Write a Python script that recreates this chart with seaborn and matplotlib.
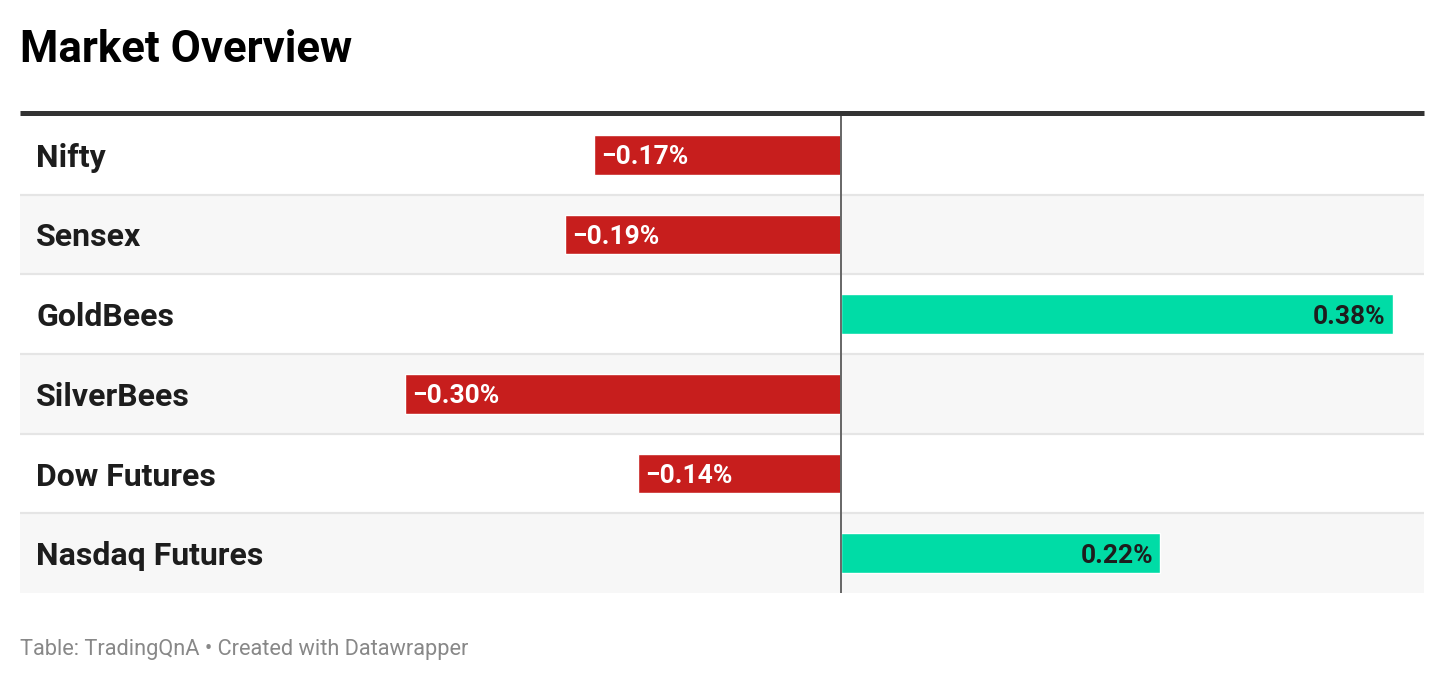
import numpy as np
import pandas as pd
import matplotlib
matplotlib.use("Agg")
import matplotlib.pyplot as plt
import matplotlib.transforms as mtransforms
from matplotlib.lines import Line2D
import seaborn as sns

# chart data
names = ["Nifty", "Sensex", "GoldBees", "SilverBees", "Dow Futures", "Nasdaq Futures"]
changes = [-0.17, -0.19, 0.38, -0.30, -0.14, 0.22]

title = "Market Overview"
footer = "Table: TradingQnA \u2022 Created with Datawrapper"

RED = "#c71e1d"
GREEN = "#00dca6"

df = pd.DataFrame({"name": names, "change": changes})
df["sign"] = np.where(df["change"] < 0, "neg", "pos")

sns.set_theme(style="white")
plt.rcParams["font.family"] = ["Roboto", "DejaVu Sans"]

W, H = 1444, 680
fig = plt.figure(figsize=(W / 100, H / 100), dpi=100)
fig.patch.set_facecolor("white")

# axes area in pixels: x 20..1424, y 115..593
ax = fig.add_axes([20 / W, 1 - 593 / H, 1404 / W, 478 / H])

sns.barplot(data=df, y="name", x="change", hue="sign", palette={"neg": RED, "pos": GREEN},
            orient="h", width=0.5, dodge=False, legend=False, ax=ax, saturation=1)

# x scale: 0 at pixel 841, ~1452 px per 1%
ax.set_xlim((20 - 841) / 1452, (1424 - 841) / 1452)
ax.set_ylim(len(names) - 0.5, -0.5)

# row stripes and separators
for i in range(len(names)):
    if i % 2 == 1:
        ax.axhspan(i - 0.5, i + 0.5, color="#f7f7f7", zorder=0, lw=0)
    if i > 0:
        ax.axhline(i - 0.5, color="#e5e5e5", lw=1.6, zorder=0.5)

ax.axvline(0, color="#666666", lw=1.4, zorder=5)

for s in ax.spines.values():
    s.set_visible(False)
ax.set_xticks([])
ax.set_yticks([])
ax.set_xlabel("")
ax.set_ylabel("")
ax.set_facecolor("white")

# row labels
lab_tr = mtransforms.blended_transform_factory(ax.transAxes, ax.transData)
for i, n in enumerate(names):
    ax.text(16 / 1404, i, n, transform=lab_tr, ha="left", va="center_baseline",
            fontsize=23, fontweight="bold", color="#1d1d1d")

# value labels inside bars
for i, v in enumerate(changes):
    txt = f"{v:.2f}%".replace("-", "\u2212")
    if v < 0:
        ax.annotate(txt, (v, i), xytext=(5, 0), textcoords="offset points",
                    ha="left", va="center_baseline", fontsize=19, fontweight="bold",
                    color="white", zorder=6)
    else:
        ax.annotate(txt, (v, i), xytext=(-5, 0), textcoords="offset points",
                    ha="right", va="center_baseline", fontsize=19, fontweight="bold",
                    color="#1d1d1d", zorder=6)

# top rule
fig.add_artist(Line2D([20 / W, 1424 / W], [1 - 112.5 / H, 1 - 112.5 / H],
                      transform=fig.transFigure, color="#333333", lw=3.6,
                      solid_capstyle="butt"))

fig.text(20 / W, 1 - 45 / H, title, ha="left", va="center_baseline",
         fontsize=31.5, fontweight="bold", color="black")
fig.text(20 / W, 1 - 647 / H, footer, ha="left", va="center_baseline",
         fontsize=15.7, color="#888888")

fig.savefig("out.png", dpi=100, facecolor="white")
